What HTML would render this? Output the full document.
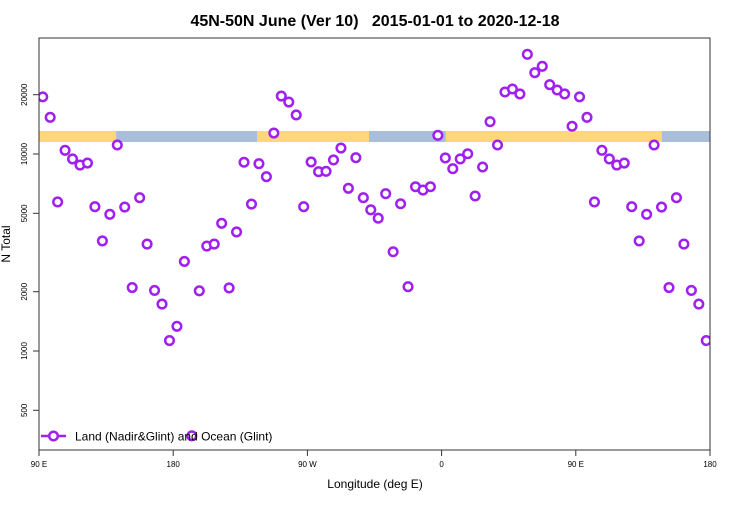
<!DOCTYPE html>
<html><head><meta charset="utf-8"><style>
html,body{margin:0;padding:0;background:#fff;}
svg text{font-family:"Liberation Sans",sans-serif;}
</style></head><body>
<svg id="chart" width="750" height="500" viewBox="0 0 750 500" xmlns="http://www.w3.org/2000/svg">
<defs><clipPath id="pc"><rect x="39" y="38" width="671" height="412"/></clipPath></defs>
<text x="375" y="26" text-anchor="middle" font-size="16" font-weight="bold" style="white-space:pre">45N-50N June (Ver 10)   2015-01-01 to 2020-12-18</text>
<g id="band" clip-path="url(#pc)"></g>
<g id="marks" clip-path="url(#pc)"></g>
<rect x="39" y="38" width="671" height="412" fill="none" stroke="#333" stroke-width="1"/>
<g id="yaxis"></g>
<g id="xaxis"></g>
<text x="375" y="488" text-anchor="middle" font-size="12">Longitude (deg E)</text>
<text transform="translate(10,244) rotate(-90)" text-anchor="middle" font-size="12">N Total</text>
<g>
<line x1="41" y1="436" x2="66" y2="436" stroke="#A020F0" stroke-width="2.5"/>
<circle cx="53.5" cy="436" r="4.3" fill="#fff" stroke="#A020F0" stroke-width="2.5"/>
<text x="75" y="440.5" font-size="12">Land (Nadir&amp;Glint) and Ocean (Glint)</text>
</g>
</svg>
<script>
const lons = [];
for (let i = 0; i < 72; i++) lons.push(92.5 + 5 * i);
const counts = [19500,15350,5710,10440,9440,8790,9000,5400,3620,4940,11110,5380,2100,6000,3490,2030,1730,1130,1335,2850,371,2020,3410,3490,4450,2090,4020,9080,5570,8930,7670,12780,19690,18360,15780,5400,9110,8130,8170,9330,10720,6700,9580,6000,5210,4720,6290,3190,5590,2120,6820,6560,6820,12440,9550,8420,9440,10030,6120,8590,14590,11110,20640,21380,20170,32060,25870,27870,22480,21130,20170,13830];
const yTicks = [500,1000,2000,5000,10000,20000];
const xTickLons = [90,180,270,360,450,540];
const xTickLabels = ["90 E","180","90 W","0","90 E","180"];
const bandLons = [90,141.7,236.2,311.3,362.9,507.6,540];
const bandColors = ["#FFD778","#A8BEDA","#FFD778","#A8BEDA","#FFD778","#A8BEDA"];

const NS = "http://www.w3.org/2000/svg";
const X0 = 39, X1 = 710, LON0 = 90, LON1 = 540;
const xs = l => X0 + (l - LON0) / (LON1 - LON0) * (X1 - X0);
const ys = v => 351 - (Math.log10(v) - 3) * 197;
function mk(tag, attrs, parent) {
  const e = document.createElementNS(NS, tag);
  for (const k in attrs) e.setAttribute(k, attrs[k]);
  parent.appendChild(e);
  return e;
}
const band = document.getElementById('band');
for (let i = 0; i < bandColors.length; i++) {
  const r = mk('rect', {x: xs(bandLons[i]), y: 131, width: xs(bandLons[i+1]) - xs(bandLons[i]), height: 11, fill: bandColors[i]}, band);
  
  
}
const marks = document.getElementById('marks');
for (const shift of [0, 360]) {
  for (let i = 0; i < lons.length; i++) {
    const l = lons[i] + shift;
    if (l > LON1) continue;
    const c = mk('circle', {cx: xs(l), cy: ys(counts[i]), r: 4.3, fill: '#fff', stroke: '#A020F0', 'stroke-width': 2.5}, marks);
    
    
  }
}
const ya = document.getElementById('yaxis');
for (const t of yTicks) {
  const y = ys(t);
  mk('line', {x1: 33, x2: 39, y1: y, y2: y, stroke: '#333'}, ya);
  const tx = mk('text', {transform: `translate(27,${y}) rotate(-90)`, 'text-anchor': 'middle', 'font-size': 8}, ya);
  tx.textContent = t;
  
  
}
const xa = document.getElementById('xaxis');
for (let i = 0; i < xTickLons.length; i++) {
  const x = xs(xTickLons[i]);
  mk('line', {x1: x, x2: x, y1: 450, y2: 456, stroke: '#333'}, xa);
  const tx = mk('text', {x: x, y: 467, 'text-anchor': 'middle', 'font-size': 8}, xa);
  tx.textContent = xTickLabels[i];
  
  
}
</script>
</body></html>
